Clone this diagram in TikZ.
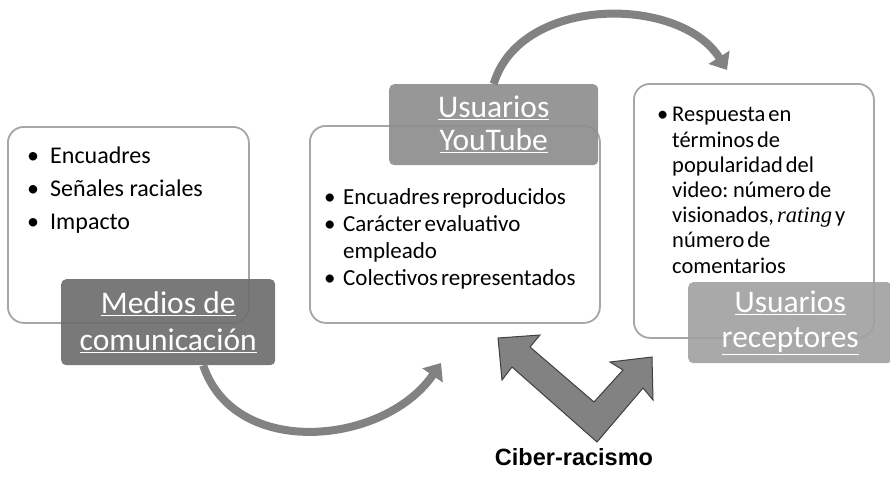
\documentclass[tikz,border=0pt]{standalone}
\usepackage{fontspec}
\setmainfont{Carlito}
\newfontfamily\arialfont{Liberation Sans}
\newfontfamily\timesfont{Liberation Serif}
\usetikzlibrary{arrows.meta}

\definecolor{frame}{HTML}{A6A6A6}
\definecolor{tagdark}{HTML}{6E6E6E}
\definecolor{tagmid}{HTML}{8E8E8E}
\definecolor{taglight}{HTML}{A0A0A0}
\definecolor{loopgray}{HTML}{828282}
\definecolor{vedge}{HTML}{404040}

\tikzset{
  panel/.style={draw=frame, line width=1.8pt, rounded corners=16pt, fill=white, anchor=north west, inner sep=0pt},
  tag/.style={rounded corners=5pt, anchor=north west, inner sep=0pt, text=white, align=center},
  bullets/.style={anchor=base west, align=left, inner sep=0pt},
  loopline/.style={draw=loopgray, line width=8pt, -{Triangle[width=24pt,length=15pt]}},
}
\newcommand{\bul}[1]{\makebox[#1][l]{\textbullet}}
\newcommand{\tightsp}{\spaceskip=3pt plus 1pt\relax}

\begin{document}
\begin{tikzpicture}[x=1pt,y=-1pt]
  \useasboundingbox (0,0) rectangle (890,479);

  % panels
  \node[panel, minimum width=241pt, minimum height=196pt] (medios) at (7,126) {};
  \node[panel, minimum width=290pt, minimum height=197pt] (youtube) at (309,125) {};
  \node[panel, minimum width=240pt, minimum height=254pt] (receptores) at (633,83) {};

  % panel texts (base = last line)
  \node[bullets, font=\fontsize{24}{33}\selectfont] (mtext) at (27,229)
    {\bul{23pt}Encuadres\\ \bul{23pt}Señales raciales\\ \bul{23pt}Impacto};
  \node[bullets, font=\fontsize{23}{27}\selectfont\tightsp] (ytext) at (324,285)
    {\bul{19pt}Encuadres reproducidos\\ \bul{19pt}Carácter evaluativo\\
     \hspace*{19pt}empleado\\ \bul{19pt}Colectivos representados};
  \node[bullets, font=\fontsize{22.5}{25.2}\selectfont\tightsp] (rtext) at (657,273)
    {\bul{15pt}Respuesta en\\ \hspace*{15pt}términos de\\ \hspace*{15pt}popularidad del\\
     \hspace*{15pt}video: número de\\ \hspace*{15pt}visionados, {\timesfont\itshape rating} y\\
     \hspace*{15pt}número de\\ \hspace*{15pt}comentarios};

  % tags
  \node[tag, fill=tagdark, fill opacity=0.92, text opacity=1, minimum width=214pt, minimum height=86pt,
        font=\fontsize{31.5}{37}\selectfont] (mtag) at (61,279)
    {\underline{Medios de}\\ \underline{comunicación}};
  \node[tag, fill=tagmid, fill opacity=0.92, text opacity=1, minimum width=209pt, minimum height=81pt,
        font=\fontsize{31.5}{33}\selectfont] (ytag) at (389,84)
    {\underline{Usuarios}\\ \underline{YouTube}};
  \node[tag, fill=taglight, fill opacity=0.9, text opacity=1, minimum width=204pt, minimum height=81pt,
        font=\fontsize{31.5}{35}\selectfont] (rtag) at (688,282)
    {\underline{Usuarios}\\ \underline{receptores}};

  % loop connectors
  \coordinate (lowend) at (441,363);
  \coordinate (topend) at (727,70);
  \draw[loopline] ([xshift=35pt]mtag.south) .. controls (235,460) and (385,445) .. (lowend);
  \draw[loopline] (ytag.north) .. controls (520,-5) and (680,-5) .. (topend);

  % double arrow
  \draw[fill=loopgray, draw=vedge, line width=1pt, line join=miter]
    (498,338) -- (540,335) -- (530,347) -- (594,402) -- (623,370) -- (610,362)
    -- (652,357) -- (653,400) -- (643,388) -- (597,442) -- (512,367) -- (502,380) -- cycle;

  \node[font=\arialfont\bfseries\fontsize{23.5}{27}\selectfont] (cyber) at (574,457) {Ciber-racismo};
\end{tikzpicture}
\end{document}
